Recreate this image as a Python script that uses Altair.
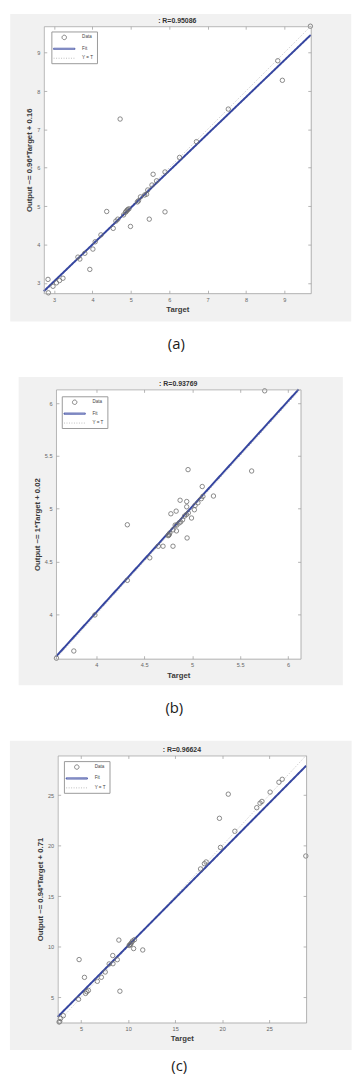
import altair as alt
import pandas as pd

# ---------------- data ----------------
a_target = [9.68, 8.83, 8.95, 7.54, 4.72, 6.71, 6.27, 5.89, 5.58, 5.67, 5.55, 5.44, 5.41,
            5.36, 5.25, 5.20, 5.17, 4.37, 5.89, 5.48, 4.99, 4.95, 4.92, 4.90, 4.88, 4.86,
            4.81, 4.66, 4.61, 4.54, 4.22, 4.07, 4.01, 3.80, 3.62, 3.67, 3.93, 2.84, 3.23,
            3.14, 3.06, 2.97, 2.85]
a_output = [9.69, 8.79, 8.28, 7.53, 7.27, 6.68, 6.27, 5.89, 5.83, 5.66, 5.55, 5.42, 5.31,
            5.29, 5.24, 5.14, 5.11, 4.86, 4.85, 4.66, 4.47, 4.93, 4.91, 4.89, 4.86, 4.84,
            4.77, 4.66, 4.61, 4.42, 4.25, 4.07, 3.88, 3.77, 3.67, 3.62, 3.35, 3.09, 3.12,
            3.06, 3.00, 2.91, 2.74]

b_target = [5.756, 5.62, 4.957, 5.105, 5.222, 5.112, 5.095, 5.06, 5.03, 5.023, 4.993, 4.943,
            4.943, 4.874, 4.833, 4.778, 4.96, 4.94, 4.92, 4.90, 4.88, 4.864, 4.84, 4.823,
            4.836, 4.80, 4.767, 4.76, 4.755, 4.75, 4.947, 4.80, 4.696, 4.647, 4.558, 4.324,
            4.324, 3.986, 3.766, 3.585]
b_output = [6.116, 5.357, 5.37, 5.21, 5.12, 5.117, 5.095, 5.056, 5.03, 4.99, 4.912, 5.068,
            5.018, 5.08, 4.977, 4.952, 4.96, 4.945, 4.93, 4.895, 4.875, 4.865, 4.845, 4.845,
            4.79, 4.80, 4.77, 4.755, 4.75, 4.745, 4.723, 4.645, 4.645, 4.645, 4.535, 4.848,
            4.322, 3.994, 3.653, 3.585]

c_target = [28.9, 20.65, 19.71, 26.39, 26.04, 25.1, 24.23, 24.03, 23.68, 21.35, 19.82, 18.29,
            18.11, 17.7, 11.55, 10.58, 10.67, 10.46, 10.35, 10.25, 10.18, 10.1, 9.01, 9.12,
            8.36, 8.84, 8.38, 7.98, 7.56, 7.15, 6.72, 4.78, 5.35, 5.77, 5.47, 5.6, 4.72,
            3.1, 2.8, 2.72, 2.65]
c_output = [18.98, 25.1, 22.71, 26.57, 26.28, 25.3, 24.38, 24.21, 23.76, 21.43, 19.83, 18.39,
            18.22, 17.7, 9.68, 9.82, 10.7, 10.56, 10.4, 10.25, 10.2, 10.12, 10.66, 5.6,
            9.13, 8.72, 8.32, 8.3, 7.5, 6.98, 6.58, 8.73, 6.97, 5.68, 5.38, 5.55, 4.8,
            3.18, 2.9, 2.6, 2.55]

fit_slope = [0.96, 1.0, 0.94]
fit_intercept = [0.16, 0.02, 0.71]
r_titles = [": R=0.95086", ": R=0.93769", ": R=0.96624"]
y_titles = ["Output ~= 0.96*Target + 0.16", "Output ~= 1*Target + 0.02",
            "Output ~= 0.94*Target + 0.71"]
limits = [(2.73, 9.69), (3.58, 6.13), (2.5, 28.93)]
tick_values = [[3, 4, 5, 6, 7, 8, 9], [4, 4.5, 5, 5.5, 6], [5, 10, 15, 20, 25]]
captions = ["(a)", "(b)", "(c)"]
series = ["Data", "Fit", "Y = T"]

FONT = "Liberation Sans"
FRAME = "#a3a3a3"
LABEL = "#666666"
FIT_COLOR = "#3646a0"


def panel(target, output, k):
    lo, hi = limits[k]
    W, H, px0, px1, py0, py1, lx, ly, cap_off, cap_dx = [
        (344, 310, 34.35, 303.65, 12.7, 282.0, 42, 18, 16, -4),
        (327, 311, 38.15, 284.85, 13.0, 284.7, 44, 20, 16, -6),
        (344.7, 312, 48.7, 299.3, 15.3, 284.7, 55, 21, 10, -1),
    ][k]
    xs = alt.Scale(domain=[lo, hi], range=[px0, px1], nice=False, zero=False)
    ys = alt.Scale(domain=[lo, hi], range=[py1, py0], nice=False, zero=False)
    vals = tick_values[k]

    pts = pd.DataFrame({"Target": target, "Output": output, "series": "Data"})
    one = pd.DataFrame({"series": ["Data"]})
    m, b = fit_slope[k], fit_intercept[k]
    x_start = max(lo, (lo - b) / m)
    x_end = min(hi, (hi - b) / m)
    fit = pd.DataFrame({"Target": [x_start, x_end],
                        "Output": [m * x_start + b, m * x_end + b], "series": "Fit"})
    yt = pd.DataFrame({"Target": [lo, hi], "Output": [lo, hi], "series": "Y = T"})

    leg = alt.Legend(title=None, orient="none", legendX=lx, legendY=ly, fillColor="white",
                     strokeColor="#9a9a9a", padding=3, labelFontSize=4.6, labelFont=FONT,
                     labelColor="#444444", symbolSize=20, rowPadding=3.5, symbolOffset=7,
                     labelOffset=15, symbolStrokeWidth=0.9, cornerRadius=0)
    color = alt.Color("series:N", scale=alt.Scale(domain=series,
                      range=["#6e6e6e", FIT_COLOR, "#b8b8b8"]), legend=leg)
    shape = alt.Shape("series:N", scale=alt.Scale(domain=series, range=[
        "circle", "M-4.8,-0.25L4.8,-0.25L4.8,0.25L-4.8,0.25Z", "M-4.8,0L4.8,0"]), legend=leg)
    dash = alt.StrokeDash("series:N", scale=alt.Scale(domain=series,
                          range=[[1, 0], [1, 0], [1, 1.5]]), legend=leg)

    common = dict(zindex=1, grid=False, values=vals)
    ax_bottom = alt.Axis(orient="bottom", offset=-(H - py1), domain=True, domainColor=FRAME,
                         domainWidth=0.8, ticks=False, labels=True, format="~g",
                         labelFont=FONT, labelFontSize=5.6, labelColor=LABEL, labelPadding=4,
                         title="Target", titleFont=FONT, titleFontSize=7.8,
                         titleFontWeight="bold", titleColor="#3a3a3a", titlePadding=3, **common)
    ax_left = alt.Axis(orient="left", offset=-px0, domain=True, domainColor=FRAME,
                       domainWidth=0.8, ticks=False, labels=True, format="~g",
                       labelFont=FONT, labelFontSize=5.6, labelColor=LABEL, labelPadding=4,
                       title=y_titles[k], titleFont=FONT, titleFontSize=7.8,
                       titleFontWeight="bold", titleColor="#3a3a3a", titlePadding=3, **common)
    ax_top = alt.Axis(orient="top", offset=-py0, domain=True, domainColor=FRAME,
                      domainWidth=0.8, ticks=False, labels=False, title=None, **common)
    ax_right = alt.Axis(orient="right", offset=-(W - px1), domain=True, domainColor=FRAME,
                        domainWidth=0.8, ticks=False, labels=False, title=None, **common)
    tk = dict(domain=False, labels=False, ticks=True, tickSize=3, tickColor=FRAME,
              tickWidth=0.8, title=None, **common)
    tk_bottom = alt.Axis(orient="bottom", offset=-(H - py1) - 3, **tk)
    tk_left = alt.Axis(orient="left", offset=-px0 - 3, **tk)
    tk_top = alt.Axis(orient="top", offset=-py0 - 3, **tk)
    tk_right = alt.Axis(orient="right", offset=-(W - px1) - 3, **tk)

    bg = alt.Chart(one).mark_rect(fill="white").encode(
        x=alt.X(datum=lo, type="quantitative", scale=xs, axis=ax_bottom),
        x2=alt.X2(datum=hi),
        y=alt.Y(datum=lo, type="quantitative", scale=ys, axis=ax_left),
        y2=alt.Y2(datum=hi),
    )
    yt_layer = alt.Chart(yt).mark_line(strokeWidth=0.8).encode(
        x=alt.X("Target:Q", scale=xs, axis=ax_top),
        y=alt.Y("Output:Q", scale=ys, axis=ax_right),
        color=color, strokeDash=dash,
    )
    fit_layer = alt.Chart(fit).mark_line(strokeWidth=2).encode(
        x=alt.X("Target:Q", scale=xs, axis=tk_bottom),
        y=alt.Y("Output:Q", scale=ys, axis=tk_left),
        color=color, strokeDash=dash,
    )
    pt_layer = alt.Chart(pts).mark_point(filled=False, size=20, strokeWidth=0.8,
                                         opacity=1).encode(
        x=alt.X("Target:Q", scale=xs, axis=tk_top),
        y=alt.Y("Output:Q", scale=ys, axis=tk_right),
        color=color, shape=shape,
    )
    txt = alt.Chart(one).mark_text(text=r_titles[k], font=FONT, fontSize=7,
                                   fontWeight="bold", color="#333333",
                                   baseline="alphabetic", dy=-3).encode(
        x=alt.X(datum=(lo + hi) / 2, type="quantitative", scale=xs, axis=None),
        y=alt.Y(datum=hi, type="quantitative", scale=ys, axis=None),
    )
    return alt.layer(bg, yt_layer, fit_layer, pt_layer, txt).resolve_axis(
        x="independent", y="independent"
    ).properties(
        width=W, height=H,
        title=alt.TitleParams(text=captions[k], orient="bottom", anchor="middle",
                              offset=cap_off, dx=cap_dx, fontSize=15, font="Open Sans",
                              fontWeight="normal", color="#1a1a1a"),
    )


chart = alt.vconcat(
    panel(a_target, a_output, 0),
    panel(b_target, b_output, 1),
    panel(c_target, c_output, 2),
    spacing=23, center=True, padding=0,
).resolve_scale(
    color="independent", shape="independent", strokeDash="independent"
).configure_view(fill="#f1f1f1", stroke="transparent")

chart.save("out.html", embed_options={"renderer": "svg", "actions": False})
